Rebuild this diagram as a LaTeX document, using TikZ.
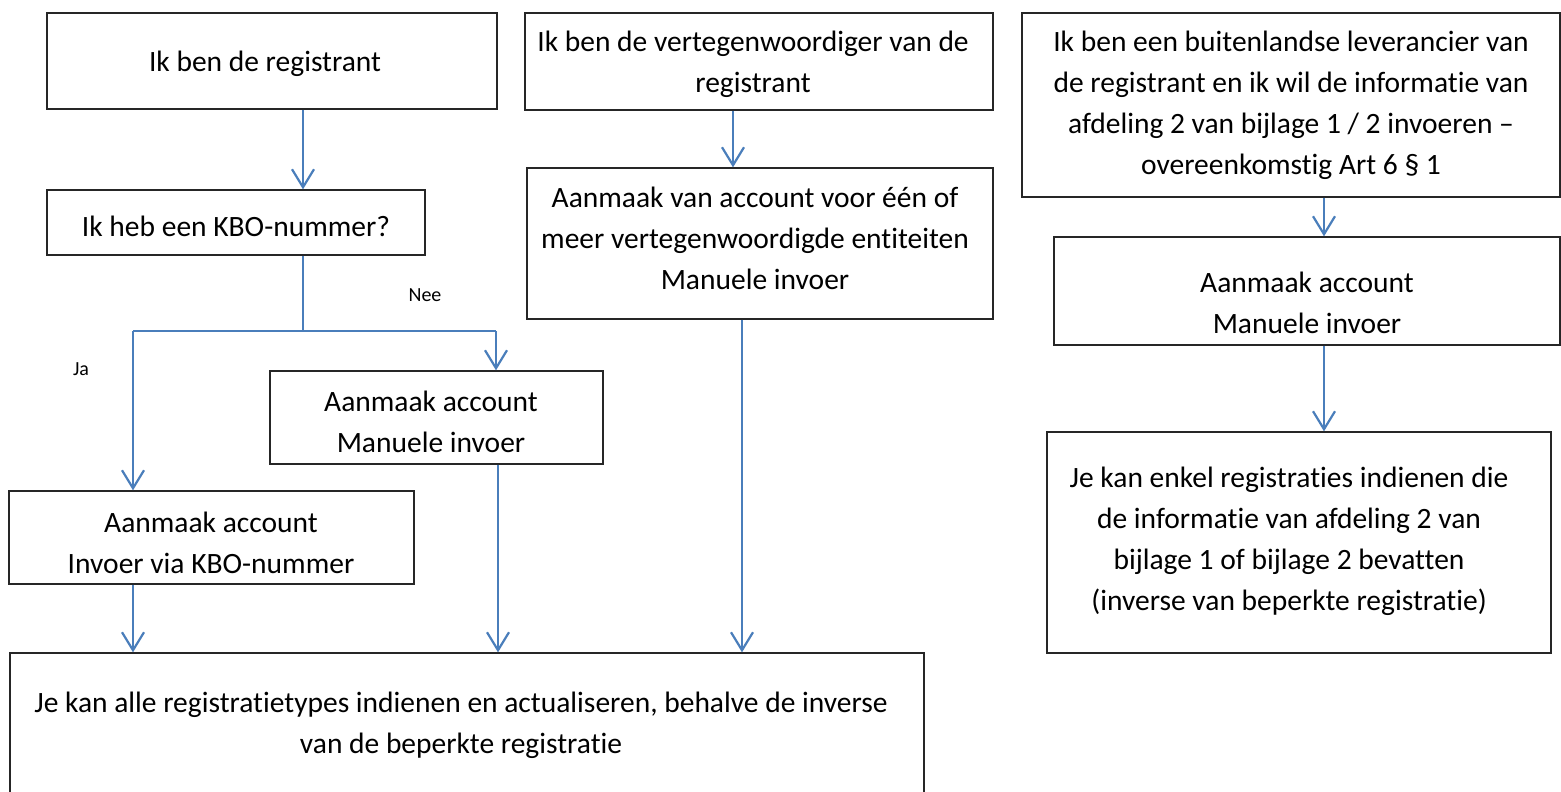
\documentclass[tikz,border=0pt]{standalone}
\usepackage{fontspec}
\setmainfont{Carlito}[RawFeature={-liga;-clig;-calt;-dlig}]
\usetikzlibrary{arrows.meta,fit}
\definecolor{arrblue}{HTML}{4A7EBB}
\tikzset{
  box/.style={draw=black!85, line width=1.3pt, inner sep=0pt},
  txt/.style={align=center, font=\fontsize{29.5}{41}\selectfont, inner sep=0pt},
  small/.style={font=\fontsize{20}{22}\selectfont, inner sep=0pt},
  arr/.style={draw=arrblue, line width=2.2pt, -{Straight Barb[length=18pt,width=22pt,line width=2.2pt]}},
  ln/.style={draw=arrblue, line width=2.2pt}
}
\begin{document}
\begin{tikzpicture}[x=1pt,y=-1pt]
\useasboundingbox (0,0) rectangle (1561,792);
% boxes
\node[box, fit={(47,13)(497,109)}] (a) {};
\node[box, fit={(525,13)(993,110)}] (b) {};
\node[box, fit={(1022,13)(1560,197)}] (c) {};
\node[box, fit={(47,190)(425,255)}] (kbo) {};
\node[box, fit={(527,168)(993,319)}] (d) {};
\node[box, fit={(1054,237)(1560,345)}] (e) {};
\node[box, fit={(270,371)(603,464)}] (g) {};
\node[box, fit={(9,491)(414,584)}] (f) {};
\node[box, fit={(10,653)(924,840)}] (h) {};
\node[box, fit={(1047,432)(1551,653)}] (i) {};
% texts
\node[txt] (ta) at (265,64) {Ik ben de registrant};
\node[txt] (tb) at (753,64.5) {Ik ben de vertegenwoordiger van de\\registrant};
\node[txt] (tc) at (1291,105.5) {Ik ben een buitenlandse leverancier van\\de registrant en ik wil de informatie van\\afdeling 2 van bijlage 1 / 2 invoeren --\\overeenkomstig Art 6 § 1};
\node[txt] (tkbo) at (236,226) {Ik heb een KBO-nummer?};
\node[txt] (td) at (755,238.5) {Aanmaak van account voor één of\\meer vertegenwoordigde entiteiten\\Manuele invoer};
\node[txt] (te) at (1307,302.5) {Aanmaak account\\Manuele invoer};
\node[txt] (tg) at (431,422) {Aanmaak account\\Manuele invoer};
\node[txt] (tf) at (211,542.5) {Aanmaak account\\Invoer via KBO-nummer};
\node[txt] (th) at (461,725) {Je kan alle registratietypes indienen en actualiseren, behalve de inverse\\van de beperkte registratie};
\node[txt] (ti) at (1289,541.5) {Je kan enkel registraties indienen die\\de informatie van afdeling 2 van\\bijlage 1 of bijlage 2 bevatten\\(inverse van beperkte registratie)};
\node[small] (nee) at (425,295) {Nee};
\node[small] (ja) at (81,369) {Ja};
% column coordinates
\coordinate (s) at (303,331);
\coordinate (c1) at (133,331);
\coordinate (c2) at (496,331);
\coordinate (c3) at (498,0);
\coordinate (cb) at (733,0);
\coordinate (cd) at (742,0);
\coordinate (ce) at (1324,0);
% connectors
\draw[arr] (s |- a.south) -- (s |- kbo.north);
\draw[ln] (s |- kbo.south) -- (s);
\draw[ln] (c1) -- (c2);
\draw[arr] (c1) -- (c1 |- f.north);
\draw[arr] (c2) -- (c2 |- g.north);
\draw[arr] (c1 |- f.south) -- (c1 |- h.north);
\draw[arr] (c3 |- g.south) -- (c3 |- h.north);
\draw[arr] (cb |- b.south) -- (cb |- d.north);
\draw[arr] (cd |- d.south) -- (cd |- h.north);
\draw[arr] (ce |- c.south) -- (ce |- e.north);
\draw[arr] (ce |- e.south) -- (ce |- i.north);
\end{tikzpicture}
\end{document}
